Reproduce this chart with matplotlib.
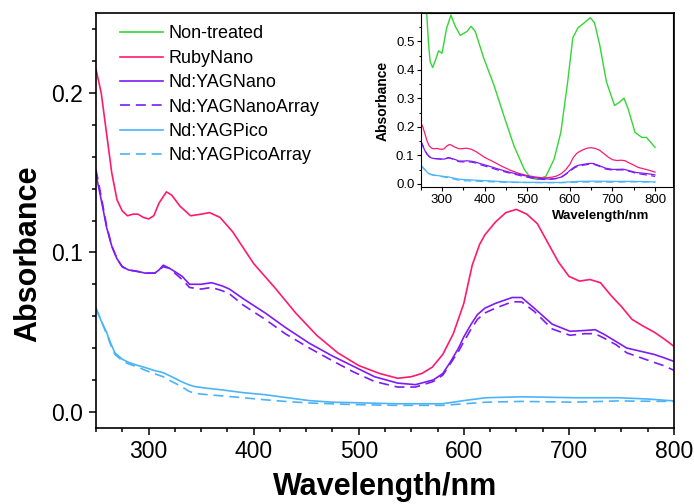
import matplotlib
matplotlib.use("Agg")
import matplotlib.pyplot as plt
from matplotlib.ticker import MultipleLocator

plt.rcParams['font.family'] = ['Liberation Sans', 'DejaVu Sans']

# ---- data ----
ruby_x = [250, 255, 260, 265, 270, 275, 280, 285, 290, 295, 300, 305, 310, 317, 322, 330,
          340, 350, 358, 368, 380, 393, 400, 420, 440, 460, 480, 500, 520, 537, 550, 560,
          570, 580, 590, 600, 608, 615, 620, 630, 640, 650, 660, 670, 680, 690, 700, 710,
          720, 730, 740, 750, 760, 770, 781, 790, 800]
ruby_y = [0.215, 0.200, 0.175, 0.150, 0.133, 0.126, 0.123, 0.124, 0.124, 0.122, 0.121, 0.123,
          0.131, 0.138, 0.136, 0.129, 0.123, 0.124, 0.125, 0.122, 0.113, 0.100, 0.093, 0.078,
          0.062, 0.048, 0.037, 0.029, 0.024, 0.021, 0.022, 0.024, 0.028, 0.036, 0.049, 0.068,
          0.092, 0.105, 0.111, 0.119, 0.125, 0.127, 0.124, 0.118, 0.106, 0.094, 0.085, 0.082,
          0.083, 0.081, 0.073, 0.066, 0.058, 0.054, 0.050, 0.046, 0.041]

nano_x = [250, 255, 260, 265, 270, 275, 281, 290, 297, 306, 310, 314, 320, 325, 332, 339,
          350, 360, 370, 377, 390, 411, 430, 453, 475, 495, 515, 537, 554, 571, 580, 587,
          595, 600, 607, 613, 620, 630, 646, 655, 667, 684, 701, 715, 725, 734, 745, 755,
          768, 781, 790, 800]
nano_y = [0.149, 0.133, 0.116, 0.104, 0.096, 0.091, 0.089, 0.088, 0.087, 0.087, 0.089, 0.092,
          0.090, 0.088, 0.085, 0.080, 0.080, 0.081, 0.079, 0.077, 0.071, 0.062, 0.053, 0.043,
          0.035, 0.0285, 0.022, 0.018, 0.017, 0.020, 0.024, 0.031, 0.040, 0.047, 0.055, 0.061,
          0.065, 0.068, 0.0717, 0.0717, 0.065, 0.055, 0.0505, 0.051, 0.0515, 0.0484, 0.044,
          0.040, 0.038, 0.036, 0.034, 0.0316]
nano_arr_y = [0.152, 0.135, 0.117, 0.104, 0.096, 0.091, 0.089, 0.088, 0.087, 0.087, 0.089, 0.091,
              0.090, 0.087, 0.083, 0.078, 0.077, 0.078, 0.076, 0.074, 0.067, 0.058, 0.049, 0.040,
              0.032, 0.025, 0.019, 0.0155, 0.0155, 0.019, 0.023, 0.030, 0.038, 0.044, 0.052, 0.058,
              0.062, 0.065, 0.069, 0.069, 0.063, 0.052, 0.048, 0.049, 0.049, 0.046, 0.042,
              0.037, 0.034, 0.031, 0.029, 0.026]

pico_x = [250, 255, 260, 264, 268, 275, 281, 290, 297, 305, 314, 322, 331, 338, 344, 355,
          369, 390, 411, 430, 453, 475, 495, 537, 579, 590, 600, 621, 655, 705, 747, 775, 800]
pico_y = [0.065, 0.057, 0.050, 0.043, 0.037, 0.033, 0.031, 0.029, 0.0277, 0.026, 0.0245, 0.022,
          0.019, 0.017, 0.0158, 0.0148, 0.0138, 0.012, 0.0107, 0.009, 0.007, 0.006, 0.0057,
          0.005, 0.005, 0.006, 0.007, 0.0088, 0.0094, 0.0088, 0.0088, 0.008, 0.0068]
pico_arr_y = [0.065, 0.057, 0.049, 0.042, 0.036, 0.032, 0.030, 0.028, 0.026, 0.024, 0.022, 0.019,
              0.016, 0.013, 0.0115, 0.0108, 0.010, 0.0088, 0.0075, 0.0065, 0.0055, 0.005, 0.0045,
              0.004, 0.004, 0.0045, 0.005, 0.006, 0.0065, 0.006, 0.0068, 0.0066, 0.0065]

raw_x = [250, 258, 264, 268, 272, 278, 286, 292, 300, 311, 321, 331, 343, 359, 368, 378, 398,
         422, 445, 469, 493, 508, 524, 544, 563, 579, 595, 607, 619, 634, 648, 658, 670, 686,
         705, 717, 727, 737, 753, 769, 780, 800]
raw_y = [0.80, 0.68, 0.60, 0.50, 0.43, 0.408, 0.44, 0.467, 0.458, 0.547, 0.592, 0.553, 0.521,
         0.535, 0.553, 0.535, 0.441, 0.346, 0.24, 0.133, 0.051, 0.021, 0.015, 0.027, 0.086,
         0.181, 0.358, 0.512, 0.547, 0.565, 0.583, 0.565, 0.489, 0.358, 0.275, 0.287, 0.301,
         0.263, 0.181, 0.163, 0.163, 0.128]

c_raw = '#33d633'
c_ruby = '#ff1a6e'
c_nd = '#7d1cf5'
c_pico = '#4db3f7'
dash = (6, 3.5)

fig = plt.figure(figsize=(6.94, 5.04), dpi=100)

# ---- main panel ----
ax = fig.add_axes([0.1383, 0.1514, 0.8329, 0.8220])
ax.plot([], [], color=c_raw, lw=1.2, label='Non-treated')
ax.plot(ruby_x, ruby_y, color=c_ruby, lw=1.2, label='RubyNano')
ax.plot(nano_x, nano_y, color=c_nd, lw=1.2, label='Nd:YAGNano')
ax.plot(nano_x, nano_arr_y, color=c_nd, lw=1.2, dashes=dash, label='Nd:YAGNanoArray')
ax.plot(pico_x, pico_y, color=c_pico, lw=1.2, label='Nd:YAGPico')
ax.plot(pico_x, pico_arr_y, color=c_pico, lw=1.2, dashes=dash, label='Nd:YAGPicoArray')

ax.set_xlim(250, 800)
ax.set_ylim(-0.01, 0.25)
ax.xaxis.set_major_locator(MultipleLocator(100))
ax.xaxis.set_minor_locator(MultipleLocator(25))
ax.yaxis.set_major_locator(MultipleLocator(0.1))
ax.yaxis.set_minor_locator(MultipleLocator(0.02))
ax.tick_params(which='both', direction='out', width=1.1, top=False, right=False)
ax.tick_params(which='major', length=5.2, labelsize=16.5, pad=4)
ax.tick_params(which='minor', length=3.0)
for s in ax.spines.values():
    s.set_linewidth(1.2)

ax.set_xlabel('Wavelength/nm', fontsize=22, fontweight='bold')
ax.set_ylabel('Absorbance', fontsize=22, fontweight='bold')
ax.xaxis.set_label_coords(0.5, -0.107)
ax.yaxis.set_label_coords(-0.092, 0.421)

ax.legend(loc='upper left', bbox_to_anchor=(0.0415, 0.971), frameon=False,
          fontsize=13, handlelength=2.38, handletextpad=0.33, labelspacing=0.41,
          borderpad=0, borderaxespad=0)

# ---- inset ----
ins = fig.add_axes([0.6062, 0.6284, 0.3640, 0.3450])
ins.plot(raw_x, raw_y, color=c_raw, lw=1.0)
ins.plot(ruby_x, ruby_y, color=c_ruby, lw=0.9)
ins.plot(nano_x, nano_y, color=c_nd, lw=0.9)
ins.plot(nano_x, nano_arr_y, color=c_nd, lw=0.9, dashes=dash)
ins.plot(pico_x, pico_y, color=c_pico, lw=0.9)
ins.plot(pico_x, pico_arr_y, color=c_pico, lw=0.9, dashes=dash)

ins.set_xlim(250, 843)
ins.set_ylim(-0.012, 0.598)
ins.xaxis.set_major_locator(MultipleLocator(100))
ins.xaxis.set_minor_locator(MultipleLocator(50))
ins.yaxis.set_major_locator(MultipleLocator(0.1))
ins.yaxis.set_minor_locator(MultipleLocator(0.05))
ins.tick_params(which='both', direction='out', width=0.8, top=False, right=False)
ins.tick_params(which='major', length=3, labelsize=9.5, pad=1.5)
ins.tick_params(which='minor', length=1.8)
for s in ins.spines.values():
    s.set_linewidth(0.8)

ins.set_xlabel('Wavelength/nm', fontsize=9.5, fontweight='bold')
ins.set_ylabel('Absorbance', fontsize=10, fontweight='bold')
ins.xaxis.set_label_coords(0.714, -0.132)
ins.yaxis.set_label_coords(-0.1215, 0.495)

fig.savefig('out.png', dpi=100)
